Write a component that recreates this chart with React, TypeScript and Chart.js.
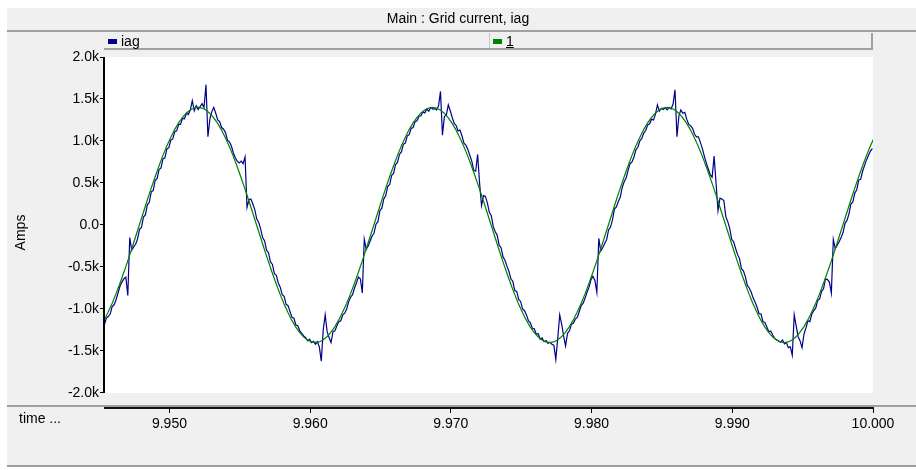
import React, { useEffect, useRef } from "react";
import { Chart, registerables } from "chart.js";

Chart.register(...registerables);

const W = 916;
const H = 470;
const FONT = '"Liberation Sans", Arial, sans-serif';

const TITLE = "Main : Grid current, iag";
const Y_AXIS_TITLE = "Amps";
const X_AXIS_CAPTION = "time ...";
const SERIES_LABELS = ["iag", "1"];
const SERIES_COLORS = ["#00008B", "#008000"];

const X_MIN = 9.94542;
const X_MAX = 10.0;
const X_TICKS = [9.95, 9.96, 9.97, 9.98, 9.99, 10.0];
const X_TICK_LABELS = ["9.950", "9.960", "9.970", "9.980", "9.990", "10.000"];

const Y_TICKS = [-2000, -1500, -1000, -500, 0, 500, 1000, 1500, 2000];
const Y_TICK_LABELS = ["-2.0k", "-1.5k", "-1.0k", "-0.5k", "0.0", "0.5k", "1.0k", "1.5k", "2.0k"];
const Y_MAX = 2000;
const Y_LOW = -2000;
const Y_AXIS_MIN = -2178.6;

// sample grid (seconds)
const IAG_T0 = 9.944957;
const IAG_DT = 0.000138889;
const FUND_T0 = 9.945082;
const FUND_DT = 0.000277778;

// iag (Amps), measured grid current
const IAG = [
  -1180, -1210, -1160, -1190, -1110, -1090, -1060, -970, -950, -890,
  -810, -730, -680, -640, -620, -840, -150, -300, -260, -230,
  // cycle 1
  -165, -50, -30, 95, 120, 240, 270, 395, 410, 530,
  555, 660, 680, 790, 800, 905, 920, 1010, 1025, 1110,
  1120, 1195, 1200, 1270, 1265, 1330, 1315, 1370, 1480, 1360,
  1420, 1375, 1410, 1445, 1400, 1670, 1050, 1260, 1350, 1400,
  1330, 1250, 1230, 1160, 1140, 1100, 1010, 990, 940, 860,
  800, 760, 740, 760, 730, 810, 210, 300, 310, 250,
  180, 70, 30, -50, -150, -190, -300, -330, -440, -470,
  -580, -600, -690, -740, -830, -850, -945, -960, -1030, -1100,
  -1110, -1190, -1200, -1260, -1290, -1320, -1340, -1380, -1360, -1400,
  -1385, -1420, -1390, -1450, -1620, -1250, -1070, -1270, -1340, -1400,
  -1270, -1260, -1200, -1150, -1140, -1070, -1050, -1000, -915, -860,
  -830, -750, -690, -620, -640, -810, -170, -290, -250, -190,
  // cycle 2
  -130, -95, 10, 40, 170, 200, 310, 350, 460, 480,
  590, 615, 720, 745, 840, 870, 960, 975, 1060, 1075,
  1150, 1160, 1230, 1240, 1295, 1300, 1345, 1335, 1380, 1355,
  1400, 1380, 1385, 1370, 1420, 1590, 1070, 1290, 1310, 1430,
  1360, 1280, 1210, 1185, 1120, 1130, 1060, 975, 950, 900,
  830, 760, 650, 640, 840, 500, 230, 350, 340, 260,
  150, 110, -20, -80, -120, -240, -270, -380, -420, -490,
  -550, -640, -670, -780, -790, -885, -910, -1000, -1020, -1070,
  -1140, -1165, -1230, -1235, -1300, -1295, -1360, -1345, -1390, -1375,
  -1410, -1395, -1420, -1430, -1600, -1350, -1070, -1180, -1320, -1440,
  -1290, -1260, -1180, -1170, -1120, -1100, -1030, -960, -930, -870,
  -800, -740, -650, -610, -660, -800, -160, -310, -270, -220,
  // cycle 3
  -175, -60, -25, 60, 190, 215, 280, 330, 450, 515,
  560, 650, 730, 750, 810, 895, 925, 1000, 1030, 1095,
  1125, 1190, 1205, 1260, 1250, 1320, 1430, 1355, 1390, 1375,
  1395, 1370, 1400, 1380, 1440, 1610, 1050, 1300, 1370, 1330,
  1340, 1260, 1200, 1180, 1150, 1080, 1050, 1050, 980, 910,
  820, 740, 670, 600, 570, 820, 500, 170, 320, 310,
  290, 100, 40, -40, -170, -200, -280, -350, -400, -520,
  -545, -615, -720, -750, -800, -870, -920, -980, -1055, -1060,
  -1150, -1160, -1215, -1270, -1265, -1310, -1350, -1365, -1380, -1395,
  -1370, -1415, -1400, -1460, -1450, -1550, -1070, -1200, -1330, -1380,
  -1460, -1300, -1225, -1140, -1150, -1060, -1020, -990, -900, -880,
  -790, -760, -640, -650, -680, -810, -170, -280, -240, -200,
  // start of cycle 4
  -150, -90, 20, 55, 130, 250, 275, 380, 420, 535,
  545, 640, 710, 775, 830, 880, 910,
];

// "1" (Amps), fundamental component
const FUND = [
  -1212, -1133, -1040, -937, -823, -700, -569, -433, -291, -146,
  0, 146, 291, 433, 569, 700, 823, 937, 1040, 1133,
  1212, 1279, 1331, 1369, 1392, 1402, 1392, 1369, 1331, 1279,
  1212, 1133, 1040, 937, 823, 700, 569, 433, 291, 146,
  0, -146, -291, -433, -569, -700, -823, -937, -1040, -1133,
  -1212, -1279, -1331, -1369, -1392, -1398, -1392, -1369, -1331, -1279,
  -1212, -1133, -1040, -937, -823, -700, -569, -433, -291, -146,
  0, 146, 291, 433, 569, 700, 823, 937, 1040, 1133,
  1212, 1279, 1331, 1369, 1392, 1401, 1392, 1369, 1331, 1279,
  1212, 1133, 1040, 937, 823, 700, 569, 433, 291, 146,
  0, -146, -291, -433, -569, -700, -823, -937, -1040, -1133,
  -1212, -1279, -1331, -1369, -1392, -1399, -1392, -1369, -1331, -1279,
  -1212, -1133, -1040, -937, -823, -700, -569, -433, -291, -146,
  0, 146, 291, 433, 569, 700, 823, 937, 1040, 1133,
  1212, 1279, 1331, 1369, 1392, 1400, 1392, 1369, 1331, 1279,
  1212, 1133, 1040, 937, 823, 700, 569, 433, 291, 146,
  0, -146, -291, -433, -569, -700, -823, -937, -1040, -1133,
  -1212, -1279, -1331, -1369, -1392, -1400, -1392, -1369, -1331, -1279,
  -1212, -1133, -1040, -937, -823, -700, -569, -433, -291, -146,
  0, 146, 291, 433, 569, 700, 823, 937, 1040,
];

const framePlugin = {
  id: "pscadFrame",
  beforeDraw(chart: any) {
    const ctx = chart.ctx as CanvasRenderingContext2D;
    const { left, right, top } = chart.chartArea;
    const plotBottom = chart.scales.y.getPixelForValue(Y_LOW);
    ctx.save();
    ctx.fillStyle = "#f0f0f0";
    ctx.fillRect(0, 0, W, H);
    ctx.fillStyle = "#ffffff";
    ctx.fillRect(0, 0, W, 8);
    ctx.fillRect(0, 0, 7, H);
    ctx.fillRect(0, 467, W, 3);
    // plot area
    ctx.fillRect(left, top, right - left, plotBottom - top);
    // separators
    ctx.fillStyle = "#a0a0a0";
    ctx.fillRect(7, 30, W - 7, 2);
    ctx.fillRect(7, 405, W - 7, 2);
    ctx.fillRect(7, 465, W - 7, 2);
    // legend box
    ctx.fillRect(left - 1, 48, right - left + 1, 2);
    ctx.fillRect(right - 2, 33, 2, 16);
    ctx.fillStyle = "#c8c8c8";
    const mid = Math.round((left + right) / 2);
    ctx.fillRect(mid, 33, 1, 15);

    ctx.fillStyle = "#000";
    ctx.font = `14px ${FONT}`;
    ctx.textBaseline = "middle";
    ctx.textAlign = "center";
    ctx.fillText(TITLE, W / 2, 19);

    // legend entries
    const cells = [left + 3, mid + 4];
    ctx.textAlign = "left";
    SERIES_LABELS.forEach((lab, i) => {
      const x = cells[i];
      ctx.fillStyle = SERIES_COLORS[i];
      ctx.fillRect(x, 39, 9, 5);
      ctx.fillStyle = "#000";
      ctx.fillText(lab, x + 13, 42);
      if (i === 1) {
        const w = ctx.measureText(lab).width;
        ctx.fillRect(x + 13, 47, w, 1);
      }
    });

    ctx.fillText(X_AXIS_CAPTION, 19, 419);
    ctx.restore();
  },
  afterDraw(chart: any) {
    const ctx = chart.ctx as CanvasRenderingContext2D;
    const { left, top } = chart.chartArea;
    const plotBottom = chart.scales.y.getPixelForValue(Y_LOW);
    ctx.save();
    ctx.fillStyle = "#000";
    ctx.fillRect(left - 2, top, 2, plotBottom - top);
    ctx.restore();
  },
};

export default function App() {
  const ref = useRef<HTMLCanvasElement>(null);
  useEffect(() => {
    const canvas = ref.current;
    if (!canvas) return;
    const iagPts = IAG.map((v, i) => ({ x: IAG_T0 + i * IAG_DT, y: v }));
    const fundPts = FUND.map((v, i) => ({ x: FUND_T0 + i * FUND_DT, y: v }));
    const chart = new Chart(canvas, {
      type: "line",
      data: {
        datasets: [
          {
            label: SERIES_LABELS[0],
            data: iagPts,
            borderColor: SERIES_COLORS[0],
            borderWidth: 1.2,
            pointRadius: 0,
            tension: 0,
            order: 1,
          },
          {
            label: SERIES_LABELS[1],
            data: fundPts,
            borderColor: SERIES_COLORS[1],
            borderWidth: 1.2,
            pointRadius: 0,
            tension: 0,
            order: 0,
          },
        ],
      },
      options: {
        responsive: false,
        animation: false,
        events: [],
        layout: { padding: { left: 7, right: 43, top: 57, bottom: 0 } },
        plugins: {
          legend: { display: false },
          title: { display: false },
          tooltip: { enabled: false },
        },
        scales: {
          x: {
            type: "linear",
            min: X_MIN,
            max: X_MAX,
            afterBuildTicks: (s: any) => {
              s.ticks = X_TICKS.map((v) => ({ value: v }));
            },
            afterFit: (s: any) => {
              s.height = 62;
            },
            ticks: {
              autoSkip: false,
              maxRotation: 0,
              padding: 3,
              color: "#000",
              font: { family: FONT, size: 14 },
              callback: (_v: any, i: number) => X_TICK_LABELS[i],
            },
            grid: {
              display: true,
              drawOnChartArea: false,
              drawTicks: true,
              tickLength: 5,
              color: "#000",
            },
            border: { display: true, color: "#111", width: 2 },
          },
          y: {
            type: "linear",
            min: Y_AXIS_MIN,
            max: Y_MAX,
            afterBuildTicks: (s: any) => {
              s.ticks = Y_TICKS.map((v) => ({ value: v }));
            },
            afterFit: (s: any) => {
              s.width = 98;
            },
            ticks: {
              autoSkip: false,
              padding: 1,
              color: "#000",
              font: { family: FONT, size: 14 },
              callback: (_v: any, i: number) => Y_TICK_LABELS[i],
            },
            grid: {
              display: true,
              drawOnChartArea: false,
              drawTicks: true,
              tickLength: 5,
              color: "#000",
            },
            border: { display: false },
            title: {
              display: true,
              text: Y_AXIS_TITLE,
              color: "#000",
              font: { family: FONT, size: 14 },
              padding: { top: 6, bottom: 0 },
            },
          },
        },
      },
      plugins: [framePlugin],
    } as any);
    return () => chart.destroy();
  }, []);
  return (
    <div style={{ position: "absolute", left: 0, top: 0, width: W, height: H }}>
      <canvas ref={ref} width={W} height={H} style={{ display: "block", width: W, height: H }} />
    </div>
  );
}
